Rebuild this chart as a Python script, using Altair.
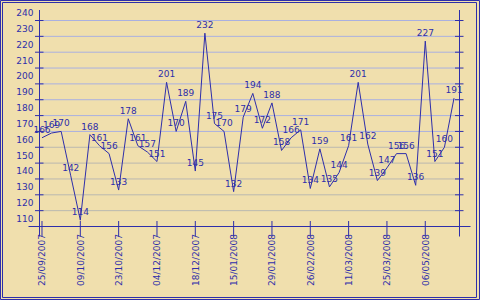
import json
import altair as alt
import pandas as pd

# ---- data ----
values = [166, 169, 170, 142, 114, 168, 161, 156, 133, 178, 161, 157, 151, 201,
          170, 189, 145, 232, 175, 170, 132, 179, 194, 172, 188, 158, 166, 171,
          134, 159, 135, 144, 161, 201, 162, 139, 147, 156, 156, 136, 227, 151,
          160, 191]
tick_labels = ["25/09/2007", "09/10/2007", "23/10/2007", "04/12/2007", "18/12/2007",
               "15/01/2008", "29/01/2008", "26/02/2008", "11/03/2008", "25/03/2008",
               "06/05/2008"]
tick_step = 4
y_ticks = list(range(110, 250, 10))

NAVY = "#2e2eaa"
GRID_BLUE = "#aab0e0"
GRID_GREY = "#bab8b0"
BG = "#f0dfad"
FONT = "DejaVu Sans"

df = pd.DataFrame({"i": list(range(len(values))), "v": values})
xt = pd.DataFrame({"i": [k * tick_step for k in range(len(tick_labels))], "lab": tick_labels})
ydf = pd.DataFrame({"v": y_ticks})
grid_df = pd.DataFrame({"v": [v for v in y_ticks if v > 110],
                        "c": [GRID_BLUE if v >= 170 else GRID_GREY for v in y_ticks if v > 110]})
one = pd.DataFrame({"a": [0]})

x_scale = alt.Scale(domain=[-0.313, 43.52], nice=False, zero=False)
y_scale = alt.Scale(domain=[110, 246.63], nice=False, zero=False)

label_expr = "%s[round(datum.value / %d)]" % (json.dumps(tick_labels), tick_step)
x_axis = alt.Axis(values=list(xt["i"]), labelExpr=label_expr, labelAngle=270,
                  labelAlign="right", labelBaseline="middle", ticks=False, tickSize=0,
                  domain=False, grid=False, labelPadding=7, labelColor=NAVY,
                  labelFont=FONT, labelFontSize=9, title=None)
y_axis = alt.Axis(values=y_ticks, labelOffset=-8, ticks=False, tickSize=0, domain=False,
                  grid=False, labelPadding=6, labelColor=NAVY, labelFont=FONT,
                  labelFontSize=9, title=None)


def X():
    return alt.X("i:Q", scale=x_scale, axis=x_axis)


def Y():
    return alt.Y("v:Q", scale=y_scale, axis=y_axis)


grid = alt.Chart(grid_df).mark_rule(strokeWidth=1).encode(
    y=Y(), color=alt.Color("c:N", scale=None))

line = alt.Chart(df).mark_line(color=NAVY, strokeWidth=1).encode(x=X(), y=Y())

labels = alt.Chart(df).mark_text(dy=-5, baseline="alphabetic", align="center",
                                 color=NAVY, font=FONT, fontSize=9).encode(
    x=X(), y=Y(), text="v:Q")

left_axis = alt.Chart(one).mark_rule(color=NAVY).encode(
    x=alt.value(0.5), y=alt.value(0), y2=alt.value(226.5))
right_axis = alt.Chart(one).mark_rule(color=NAVY).encode(
    x=alt.value(420.5), y=alt.value(0), y2=alt.value(226.5))
bottom_axis = alt.Chart(one).mark_rule(color=NAVY).encode(
    y=alt.value(216.5), x=alt.value(-10.5), x2=alt.value(431.5))

yticks_left = alt.Chart(ydf).mark_rule(color=NAVY).encode(
    y=Y(), x=alt.value(-4), x2=alt.value(4.5))
yticks_right = alt.Chart(ydf).mark_rule(color=NAVY).encode(
    y=Y(), x=alt.value(416), x2=alt.value(424.5))
xticks = alt.Chart(xt).mark_rule(color=NAVY).encode(
    x=X(), y=alt.value(211), y2=alt.value(226.5))

outer = alt.Chart(one).mark_rect(fillOpacity=0, stroke=NAVY, strokeWidth=1).encode(
    x=alt.value(-38.5), x2=alt.value(440.5), y=alt.value(-9.5), y2=alt.value(289.5))
inner = alt.Chart(one).mark_rect(fillOpacity=0, stroke=NAVY, strokeWidth=1).encode(
    x=alt.value(-36.5), x2=alt.value(437.5), y=alt.value(-7.5), y2=alt.value(287.5))

chart = alt.layer(
    grid, bottom_axis, left_axis, right_axis, yticks_left, yticks_right, xticks,
    line, labels, outer, inner
).properties(
    width=420, height=216.5,
    padding={"left": 39, "top": 10, "right": 21, "bottom": 73.5},
    autosize="none",
    background=BG,
).configure_view(stroke=None)

chart.save("out.html", embed_options={"renderer": "svg", "actions": False})
